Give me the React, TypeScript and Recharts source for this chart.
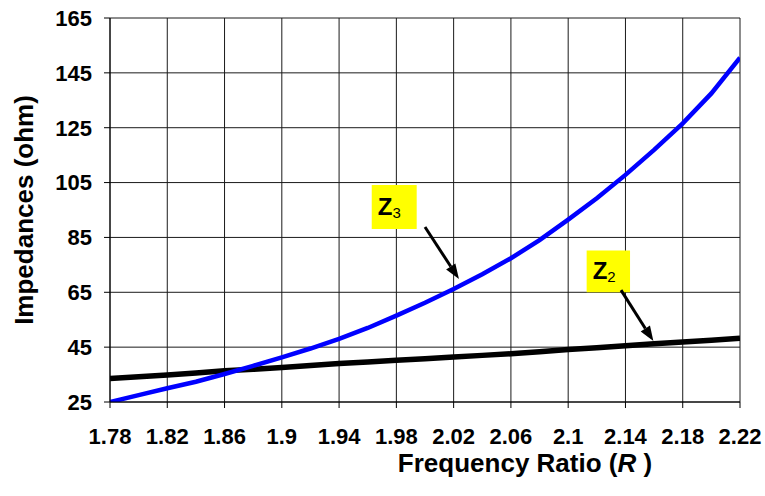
import {
  LineChart,
  Line,
  XAxis,
  YAxis,
  CartesianGrid,
  ReferenceArea,
  ReferenceLine,
} from "recharts";

// frequency ratio R, sampled every 0.02
const ratio = [
  1.78, 1.8, 1.82, 1.84, 1.86, 1.88, 1.9, 1.92, 1.94, 1.96, 1.98, 2.0,
  2.02, 2.04, 2.06, 2.08, 2.1, 2.12, 2.14, 2.16, 2.18, 2.2, 2.22,
];

// impedance Z2 (ohm)
const z2 = [
  33.6, 34.2, 34.8, 35.6, 36.4, 36.9, 37.6, 38.3, 39.0, 39.6, 40.2, 40.8,
  41.4, 42.0, 42.6, 43.3, 44.1, 44.8, 45.5, 46.2, 46.9, 47.5, 48.2,
];

// impedance Z3 (ohm)
const z3 = [
  25.0, 27.5, 30.0, 32.4, 35.2, 38.2, 41.3, 44.5, 48.0, 52.0, 56.5, 61.2,
  66.2, 71.6, 77.4, 84.0, 91.5, 99.3, 107.8, 116.9, 126.6, 137.5, 150.5,
];

const xTicks = [1.78, 1.82, 1.86, 1.9, 1.94, 1.98, 2.02, 2.06, 2.1, 2.14, 2.18, 2.22];
const yTicks = [25, 45, 65, 85, 105, 125, 145, 165];

const data = ratio.map((r, i) => ({ r, z2: z2[i], z3: z3[i] }));

const FONT = "Arial, 'Liberation Sans', sans-serif";
const tickStyle = { fill: "#000", fontSize: 22, fontWeight: 700, fontFamily: FONT };

// callout line with a filled arrow head at (x2, y2)
function Arrow(props: any) {
  const { x1, y1, x2, y2 } = props;
  const ang = Math.atan2(y2 - y1, x2 - x1);
  const len = 15;
  const half = 5.5;
  const bx = x2 - len * Math.cos(ang);
  const by = y2 - len * Math.sin(ang);
  const px = -Math.sin(ang) * half;
  const py = Math.cos(ang) * half;
  return (
    <g>
      <line x1={x1} y1={y1} x2={bx} y2={by} stroke="#000" strokeWidth={3} />
      <polygon
        points={`${x2},${y2} ${bx + px},${by + py} ${bx - px},${by - py}`}
        fill="#000"
      />
    </g>
  );
}

// "Z" with a subscript, drawn inside the yellow tag
const tagLabel = (sub: string) => (p: any) => {
  const { x, y, height } = p.viewBox;
  return (
    <text x={x + 6} y={y + height / 2 + 8} fontFamily={FONT} fill="#000">
      <tspan fontSize={24} fontWeight={700}>Z</tspan>
      <tspan fontSize={15} dy={3}>{sub}</tspan>
    </text>
  );
};

const xTitle = (p: any) => {
  const { x, y, width } = p.viewBox;
  return (
    <text
      x={x + width / 2 + 100}
      y={y + 70}
      textAnchor="middle"
      fontFamily={FONT}
      fontSize={26}
      fontWeight={700}
      fill="#000"
    >
      Frequency Ratio (<tspan fontStyle="italic">R</tspan> )
    </text>
  );
};

const yTitle = (p: any) => {
  const { y, height } = p.viewBox;
  const cy = y + height / 2;
  return (
    <text
      x={33}
      y={cy}
      transform={`rotate(-90, 33, ${cy})`}
      textAnchor="middle"
      fontFamily={FONT}
      fontSize={26}
      fontWeight={700}
      fill="#000"
    >
      Impedances (ohm)
    </text>
  );
};

export default function App() {
  return (
    <div style={{ position: "absolute", left: 0, top: 0 }}>
      <LineChart
        width={765}
        height={496}
        data={data}
        margin={{ top: 18, right: 25, left: 0, bottom: 0 }}
      >
        <CartesianGrid stroke="#1a1a1a" strokeWidth={1} />
        <XAxis
          dataKey="r"
          type="number"
          domain={[1.78, 2.22]}
          ticks={xTicks}
          interval={0}
          height={94}
          tickSize={6}
          tickMargin={20}
          tick={tickStyle}
          stroke="#000"
          allowDataOverflow
          label={xTitle}
        />
        <YAxis
          type="number"
          domain={[25, 165]}
          ticks={yTicks}
          interval={0}
          width={110}
          tickSize={6}
          tickMargin={12}
          tick={tickStyle}
          stroke="#000"
          allowDataOverflow
          label={yTitle}
        />
        <Line
          dataKey="z2"
          type="linear"
          stroke="#000"
          strokeWidth={5.5}
          dot={false}
          isAnimationActive={false}
        />
        <Line
          dataKey="z3"
          type="linear"
          stroke="#0000ff"
          strokeWidth={4.5}
          dot={false}
          isAnimationActive={false}
        />
        <ReferenceArea
          x1={1.9628}
          x2={1.9942}
          y1={88.1}
          y2={104.1}
          fill="#ffff00"
          fillOpacity={1}
          stroke="none"
          label={tagLabel("3")}
        />
        <ReferenceLine
          segment={[
            { x: 2.0, y: 88.8 },
            { x: 2.0237, y: 69.8 },
          ]}
          shape={Arrow}
        />
        <ReferenceArea
          x1={2.1129}
          x2={2.1432}
          y1={65.0}
          y2={80.2}
          fill="#ffff00"
          fillOpacity={1}
          stroke="none"
          label={tagLabel("2")}
        />
        <ReferenceLine
          segment={[
            { x: 2.1369, y: 65.8 },
            { x: 2.1595, y: 47.2 },
          ]}
          shape={Arrow}
        />
      </LineChart>
    </div>
  );
}
